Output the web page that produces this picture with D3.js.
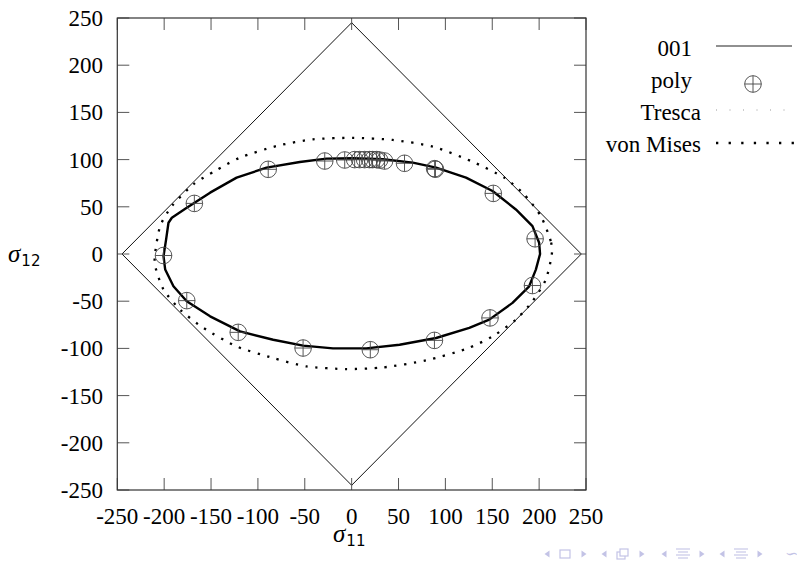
<!DOCTYPE html>
<html>
<head>
<meta charset="utf-8">
<script src="https://cdn.jsdelivr.net/npm/d3@7"></script>
<style>
  html, body { margin: 0; padding: 0; background: #fff; }
  svg { display: block; }
  .serif { font-family: "Liberation Serif", "DejaVu Serif", "Noto Serif", "Times New Roman", serif; }
</style>
</head>
<body>
<div id="chart"></div>
<script>
// ---------- data ----------
const xTicks = [-250, -200, -150, -100, -50, 0, 50, 100, 150, 200, 250];
const yTicks = [-250, -200, -150, -100, -50, 0, 50, 100, 150, 200, 250];
const legendLabels = ["001", "poly", "Tresca", "von Mises"];

// "001" curve (sigma11, sigma12)
const curve001 = [
  [196.5, -16.5], [201, 0], [200, 11.9], [192.9, 29.5], [175.2, 47.2], [150.3, 66.7],
  [122, 80.9], [90.1, 91.5], [65.2, 96.8], [33.3, 100.3], [1.4, 101.4], [-26.9, 101],
  [-55.3, 97.5], [-90.8, 91.5], [-122.7, 80.9], [-151, 65], [-175.9, 49], [-191.8, 38.4],
  [-195.4, 33.1], [-198, 15], [-200.7, -2.3], [-198.9, -16.5], [-190.1, -34.2],
  [-175.9, -50.1], [-151, -66], [-119.1, -82], [-83.7, -90.8], [-51.8, -97.1],
  [-19.9, -100], [15.6, -100], [51.1, -96.1], [90.1, -89], [125.5, -78.3],
  [146.8, -69.5], [171.6, -51.8], [189.4, -34.2]
];

// "poly" points
const polyPoints = [
  [-200.7, -1.6], [-167.8, 53.6], [-89, 89.7], [-28.7, 98.5], [-7.4, 99.6], [3.2, 100],
  [8.5, 100], [13.8, 100], [19.1, 100], [22.3, 100], [26.6, 100], [29.8, 99.5],
  [35.1, 98.5], [56.4, 96.1], [88.5, 90.4], [89.4, 89.8], [151.1, 64.2], [195.7, 16.1],
  [192.9, -33.4], [147.6, -67.7], [88.3, -91.5], [19.9, -101.4], [-51.8, -99.6],
  [-121, -83], [-175.9, -49.4]
];

// Tresca surface
const tresca = [[245, 0], [0, 245], [-245, 0], [0, -245]];

// von Mises surface
const vonMises = [
  [213.5, -0.5], [212.4, 13.6], [201.8, 40.1], [184, 63.2], [162.8, 80.9], [127.3, 98.5],
  [86.5, 113.8], [43.9, 120.8], [1.4, 123], [-41.2, 121.5], [-80.1, 114.4],
  [-119.1, 102.1], [-145.7, 87.9], [-168.8, 73.8], [-191.8, 50.7], [-204.3, 29.5],
  [-209.6, 1.3], [-209.6, -12.9], [-200.7, -37.7], [-183, -58.9], [-158.2, -78.3],
  [-122.7, -97.9], [-83.7, -110.2], [-48.2, -119.1], [-5.7, -121.9], [33.3, -120.2],
  [79.4, -112.7], [122, -100.6], [150.3, -87.3], [175.2, -69.5], [192.9, -50.1],
  [207.1, -27.1]
];

// ---------- drawing ----------
const W = 797, H = 564;
const svg = d3.select("#chart").append("svg").attr("width", W).attr("height", H);

const x = d3.scaleLinear().domain([-250, 250]).range([117.3, 586]);
const y = d3.scaleLinear().domain([-250, 250]).range([490, 18]);

const fs = 23;

svg.append("defs").append("clipPath").attr("id", "clip")
  .append("rect").attr("x", x(-250)).attr("y", y(250))
  .attr("width", x(250) - x(-250)).attr("height", y(-250) - y(250));

const plot = svg.append("g").attr("clip-path", "url(#clip)");

const line = d3.line().x(d => x(d[0])).y(d => y(d[1]));

// Tresca
plot.append("path")
  .attr("d", d3.line().x(d => x(d[0])).y(d => y(d[1])).curve(d3.curveLinearClosed)(tresca))
  .attr("fill", "none").attr("stroke", "#111").attr("stroke-width", 1);

// von Mises
plot.append("path")
  .attr("d", d3.line().x(d => x(d[0])).y(d => y(d[1])).curve(d3.curveCardinalClosed.tension(0.3))(vonMises))
  .attr("fill", "none").attr("stroke", "#000").attr("stroke-width", 2.3)
  .attr("stroke-dasharray", "2.3,7.6");

// 001
plot.append("path")
  .attr("d", d3.line().x(d => x(d[0])).y(d => y(d[1])).curve(d3.curveLinearClosed)(curve001))
  .attr("fill", "none").attr("stroke", "#000").attr("stroke-width", 2.4)
  .attr("stroke-linejoin", "round");

// poly markers
function marker(g, cx, cy) {
  const r = 8.3;
  g.append("circle").attr("cx", cx).attr("cy", cy).attr("r", r)
    .attr("fill", "none").attr("stroke", "#444").attr("stroke-width", 0.9);
  g.append("line").attr("x1", cx - r).attr("x2", cx + r).attr("y1", cy).attr("y2", cy)
    .attr("stroke", "#444").attr("stroke-width", 0.9);
  g.append("line").attr("x1", cx).attr("x2", cx).attr("y1", cy - r).attr("y2", cy + r)
    .attr("stroke", "#444").attr("stroke-width", 0.9);
}
const mg = plot.append("g");
polyPoints.forEach(p => marker(mg, x(p[0]), y(p[1])));

// frame and ticks
const tl = 12;
const frame = svg.append("g");
xTicks.forEach(t => {
  frame.append("line").attr("x1", x(t)).attr("x2", x(t)).attr("y1", y(-250)).attr("y2", y(-250) - tl)
    .attr("stroke", "#555").attr("stroke-width", 1);
  frame.append("line").attr("x1", x(t)).attr("x2", x(t)).attr("y1", y(250)).attr("y2", y(250) + tl)
    .attr("stroke", "#555").attr("stroke-width", 1);
});
yTicks.forEach(t => {
  frame.append("line").attr("x1", x(-250)).attr("x2", x(-250) + tl).attr("y1", y(t)).attr("y2", y(t))
    .attr("stroke", "#555").attr("stroke-width", 1);
  frame.append("line").attr("x1", x(250)).attr("x2", x(250) - tl).attr("y1", y(t)).attr("y2", y(t))
    .attr("stroke", "#555").attr("stroke-width", 1);
});
frame.append("rect").attr("x", x(-250)).attr("y", y(250))
  .attr("width", x(250) - x(-250)).attr("height", y(-250) - y(250))
  .attr("fill", "none").attr("stroke", "#333").attr("stroke-width", 1.2);

// tick labels
const labels = svg.append("g").attr("class", "serif").attr("font-size", fs).attr("fill", "#000");
xTicks.forEach(t => {
  labels.append("text").attr("class", "serif").attr("x", x(t)).attr("y", 524)
    .attr("text-anchor", "middle").text(String(t));
});
yTicks.forEach(t => {
  labels.append("text").attr("class", "serif").attr("x", 103).attr("y", y(t) + 8)
    .attr("text-anchor", "end").text(String(t));
});

// axis titles
function sigmaLabel(cx, cy, sub) {
  const t = svg.append("text").attr("x", cx).attr("y", cy);
  t.append("tspan").attr("class", "serif").attr("font-style", "italic").attr("font-size", 25).text("σ");
  t.append("tspan").style("font-family", "'DejaVu Sans', sans-serif").attr("font-size", 15)
    .attr("dy", 4).attr("dx", 1).text(sub);
}
sigmaLabel(8, 262, "12");
sigmaLabel(333, 542, "11");

// legend
const lg = svg.append("g").attr("class", "serif").attr("font-size", fs);
const legendRows = [
  { label: legendLabels[0], tx: 692, ty: 56, sy: 46 },
  { label: legendLabels[1], tx: 692, ty: 88, sy: 84 },
  { label: legendLabels[2], tx: 701, ty: 120, sy: 110 },
  { label: legendLabels[3], tx: 701, ty: 152, sy: 143 }
];
legendRows.forEach(r => {
  lg.append("text").attr("class", "serif").attr("x", r.tx).attr("y", r.ty)
    .attr("text-anchor", "end").text(r.label);
});
lg.append("line").attr("x1", 716).attr("x2", 792).attr("y1", legendRows[0].sy).attr("y2", legendRows[0].sy)
  .attr("stroke", "#222").attr("stroke-width", 1.1);
marker(lg, 753, legendRows[1].sy);
lg.append("line").attr("x1", 716).attr("x2", 796).attr("y1", legendRows[2].sy).attr("y2", legendRows[2].sy)
  .attr("stroke", "#999").attr("stroke-width", 1).attr("stroke-dasharray", "1,12.5");
lg.append("line").attr("x1", 716).attr("x2", 797).attr("y1", legendRows[3].sy).attr("y2", legendRows[3].sy)
  .attr("stroke", "#000").attr("stroke-width", 2.3).attr("stroke-dasharray", "2.3,10.3");

// beamer navigation symbols
const nav = svg.append("g").attr("fill", "#c3c3e6").attr("stroke", "#c3c3e6");
const ny = 554;
function triL(cx) { nav.append("path").attr("d", `M${cx + 2.5},${ny - 3.5}L${cx - 2.5},${ny}L${cx + 2.5},${ny + 3.5}Z`).attr("stroke", "none"); }
function triR(cx) { nav.append("path").attr("d", `M${cx - 2.5},${ny - 3.5}L${cx + 2.5},${ny}L${cx - 2.5},${ny + 3.5}Z`).attr("stroke", "none"); }
[[547, 584], [604, 642], [664, 702], [722, 760]].forEach(([a, b]) => { triL(a); triR(b); });
nav.append("rect").attr("x", 560).attr("y", ny - 4).attr("width", 10).attr("height", 8)
  .attr("fill", "none").attr("stroke-width", 1.2);
nav.append("rect").attr("x", 617).attr("y", ny - 2).attr("width", 8).attr("height", 7)
  .attr("fill", "#fff").attr("stroke-width", 1.2);
nav.append("rect").attr("x", 620).attr("y", ny - 5).attr("width", 8).attr("height", 7)
  .attr("fill", "#fff").attr("stroke-width", 1.2);
[[676, 690], [734, 748]].forEach(([a, b]) => {
  [-5, -2, 1, 4].forEach((o, i) => {
    nav.append("line").attr("x1", a + (i % 2 ? 2 : 0)).attr("x2", b - (i % 2 ? 2 : 0))
      .attr("y1", ny + o).attr("y2", ny + o).attr("stroke-width", 1.1);
  });
});
nav.append("text").attr("class", "serif").attr("x", 785).attr("y", ny + 5).attr("font-size", 16)
  .attr("stroke", "none").text("∽");
</script>
</body>
</html>
